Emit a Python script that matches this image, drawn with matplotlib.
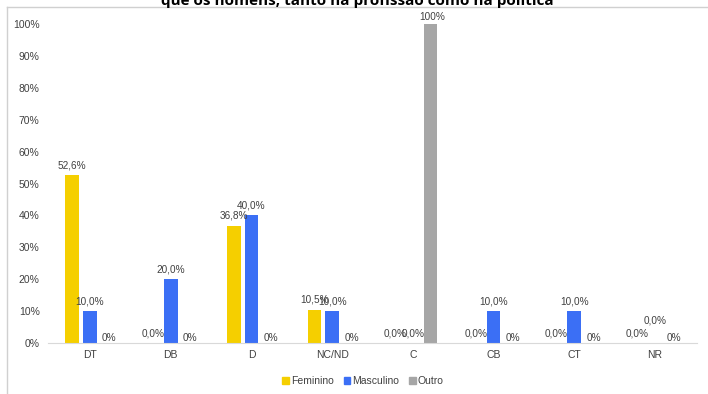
import numpy as np
import matplotlib.pyplot as plt
from matplotlib.lines import Line2D
from matplotlib.patches import Patch

plt.rcParams['font.family'] = ['Liberation Sans', 'DejaVu Sans']

categorias = ['DT', 'DB', 'D', 'NC/ND', 'C', 'CB', 'CT', 'NR']
feminino = [52.6, 0.0, 36.8, 10.5, 0.0, 0.0, 0.0, 0.0]
masculino = [10.0, 20.0, 40.0, 10.0, 0.0, 10.0, 10.0, 0.0]
outro = [0.0, 0.0, 0.0, 0.0, 100.0, 0.0, 0.0, 0.0]
rot_fem = ['52,6%', '0,0%', '36,8%', '10,5%', '0,0%', '0,0%', '0,0%', '0,0%']
rot_masc = ['10,0%', '20,0%', '40,0%', '10,0%', '0,0%', '10,0%', '10,0%', '0,0%']
rot_outro = ['0%', '0%', '0%', '0%', '100%', '0%', '0%', '0%']

c_fem = '#f5cf00'
c_masc = '#3b6ff5'
c_outro = '#a6a6a6'

fig = plt.figure(figsize=(7.08, 3.94), dpi=100)
ax = fig.add_axes([48 / 708, 1 - 343 / 394, 649 / 708, 319 / 394])

x = np.arange(len(categorias))
w = 0.17
passo = 0.22
ax.bar(x - passo, feminino, w, color=c_fem)
ax.bar(x, masculino, w, color=c_masc)
ax.bar(x + passo, outro, w, color=c_outro)

fs = 7.2
for i in range(len(categorias)):
    ax.text(x[i] - passo, feminino[i] + 1.5, rot_fem[i], ha='center', va='bottom',
            fontsize=fs, color='#404040')
    dy = 5.5 if (categorias[i] == 'NR') else 1.5
    ax.text(x[i], masculino[i] + dy, rot_masc[i], ha='center', va='bottom',
            fontsize=fs, color='#404040')
    ax.text(x[i] + passo + 0.02, outro[i] + (0.0 if outro[i] == 0 else 0.5), rot_outro[i],
            ha='center', va='bottom', fontsize=fs, color='#404040')

ax.set_xlim(-0.52, len(categorias) - 0.48)
ax.set_ylim(0, 100)
ax.set_yticks(np.arange(0, 101, 10))
ax.set_yticklabels([f'{v}%' for v in range(0, 101, 10)])
ax.set_xticks(x)
ax.set_xticklabels(categorias)
ax.tick_params(length=0, labelsize=7.5, colors='#404040')
ax.tick_params(axis='x', pad=5)
ax.tick_params(axis='y', pad=6)
for s in ['top', 'right', 'left']:
    ax.spines[s].set_visible(False)
ax.spines['bottom'].set_color('#d9d9d9')

handles = [Patch(color=c_fem, label='Feminino'),
           Patch(color=c_masc, label='Masculino'),
           Patch(color=c_outro, label='Outro')]
fig.legend(handles=handles, loc='center', bbox_to_anchor=(363 / 708, 1 - 381 / 394),
           ncol=3, frameon=False, fontsize=7.5, handlelength=0.6, handleheight=0.6,
           handletextpad=0.2, columnspacing=1.0, labelcolor='#404040')

# moldura do gráfico
fig.add_artist(Line2D([7 / 708, 7 / 708], [0, 1 - 7 / 394], transform=fig.transFigure,
                      color='#d0d0d0', lw=1))
fig.add_artist(Line2D([7 / 708, 1], [1 - 7 / 394, 1 - 7 / 394], transform=fig.transFigure,
                      color='#d0d0d0', lw=1))

fig.text(0.505, 1.0 - 1 / 394, 'que os homens, tanto na profissão como na política',
         ha='center', va='center', fontsize=11, fontweight='bold', color='black',
         family=['Open Sans', 'DejaVu Sans'])

fig.savefig('out.png', dpi=100)
